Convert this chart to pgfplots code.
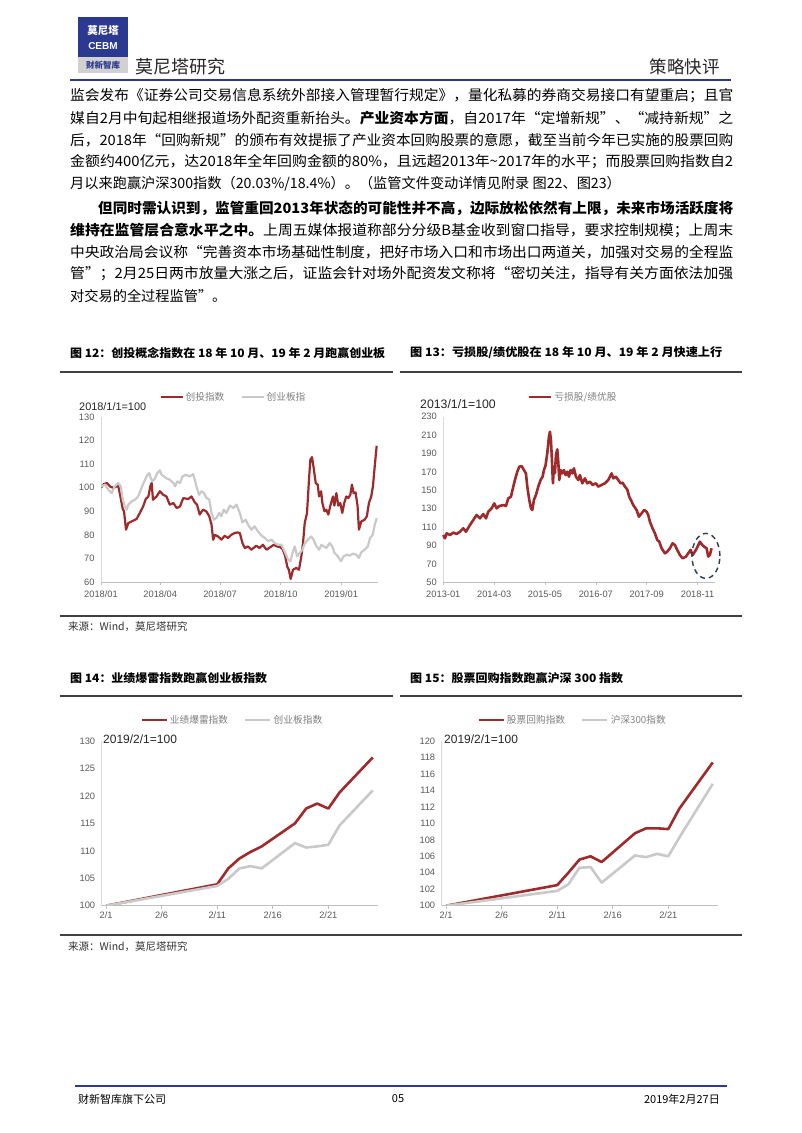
\documentclass[border=0pt]{standalone}
\usepackage{fontspec}
\setmainfont{Noto Sans CJK SC}
\newfontfamily\arial{Liberation Sans}
\usepackage{graphicx}
\usepackage{pgfplots}
\pgfplotsset{compat=1.18}
\definecolor{dred}{HTML}{9E2A2B}
\definecolor{lgray}{HTML}{C9C9C9}
\definecolor{navy}{HTML}{2B3990}
\definecolor{ticktext}{HTML}{595959}
\definecolor{legtext}{HTML}{7F7F7F}
\definecolor{xaxgray}{HTML}{BFBFBF}
\definecolor{yaxgray}{HTML}{D9D9D9}
\definecolor{rulegray}{HTML}{404040}
\definecolor{ellcol}{HTML}{2E3D57}
\newcommand\fline[1]{\resizebox{663pt}{\height}{#1}}
\pgfplotsset{
  mychart/.style={
    scale only axis, anchor=south west,
    axis x line*=bottom, axis y line*=left,
    x axis line style={draw=xaxgray, line width=0.8pt},
    y axis line style={draw=yaxgray, line width=0.8pt},
    tick align=outside, major tick length=3pt,
    xtick style={draw=xaxgray, line width=0.6pt},
    ytick style={draw=none},
    ticklabel style={font=\arial\fontsize{9.3}{10}\selectfont, text=ticktext},
    /pgf/number format/assume math mode=true,
    legend style={draw=none, fill=none, inner sep=0pt, legend columns=2,
      font=\fontsize{9.7}{10}\selectfont, text=legtext,
      /tikz/every even column/.append style={column sep=14pt}},
    legend cell align=left,
    legend image code/.code={\draw[##1] (0pt,0pt) -- (22pt,0pt);},
    every axis plot/.append style={line join=round},
  },
  longleg/.style={legend image code/.code={\draw[##1] (0pt,0pt) -- (25pt,0pt);}},
}
\begin{document}
\begin{tikzpicture}
\path[use as bounding box, fill=white] (0pt,0pt) rectangle (802pt,-1133pt);
% ---------- header ----------
\fill[navy] (78pt,-17pt) rectangle (128pt,-57pt);
\node[text=white, font=\bfseries\fontsize{10.5}{11}\selectfont, inner sep=0] at (103pt,-31pt) {莫尼塔};
\node[text=white, font=\arial\bfseries\fontsize{10}{10}\selectfont, inner sep=0] at (103pt,-46pt) {CEBM};
\fill[black!18] (78pt,-57pt) rectangle (128pt,-73pt);
\node[text=navy, font=\bfseries\fontsize{8.5}{9}\selectfont, inner sep=0] at (103pt,-65pt) {财新智库};
\node[anchor=west, inner sep=0, font=\fontsize{18}{20}\selectfont, text=black!85] at (135pt,-67pt) {莫尼塔研究};
\node[anchor=east, inner sep=0, font=\fontsize{17.5}{20}\selectfont, text=black!85] at (720pt,-67pt) {策略快评};
\draw[navy, line width=2pt] (70pt,-80pt) -- (731pt,-80pt);
% ---------- body text ----------
\begin{scope}[every node/.style={anchor=west, inner sep=0, font=\fontsize{14.2}{16}\selectfont}]
\node at (70pt,-96pt) {\fline{监会发布《证券公司交易信息系统外部接入管理暂行规定》，量化私募的券商交易接口有望重启；且官}};
\node at (70pt,-118pt) {\fline{媒自2月中旬起相继报道场外配资重新抬头。\textbf{产业资本方面}，自2017年“定增新规”、“减持新规”之}};
\node at (70pt,-140pt) {\fline{后，2018年“回购新规”的颁布有效提振了产业资本回购股票的意愿，截至当前今年已实施的股票回购}};
\node at (70pt,-162pt) {\fline{金额约400亿元，达2018年全年回购金额的80\%，且远超2013年\textasciitilde 2017年的水平；而股票回购指数自2}};
\node at (70pt,-184pt) {月以来跑赢沪深300指数（20.03\%/18.4\%）。（监管文件变动详情见附录 图22、图23）};
\node at (98pt,-208pt) {\resizebox{635pt}{\height}{\textbf{但同时需认识到，监管重回2013年状态的可能性并不高，边际放松依然有上限，未来市场活跃度将}}};
\node at (70pt,-230pt) {\fline{\textbf{维持在监管层合意水平之中。}上周五媒体报道称部分分级B基金收到窗口指导，要求控制规模；上周末}};
\node at (70pt,-252pt) {\fline{中央政治局会议称“完善资本市场基础性制度，把好市场入口和市场出口两道关，加强对交易的全程监}};
\node at (70pt,-274pt) {\fline{管”；2月25日两市放量大涨之后，证监会针对场外配资发文称将“密切关注，指导有关方面依法加强}};
\node at (70pt,-296pt) {对交易的全过程监管”。};
\end{scope}
% ---------- chart frames ----------
\node[anchor=west, inner sep=0, font=\bfseries\fontsize{11.5}{12}\selectfont] at (70pt,-353pt) {\resizebox{315pt}{\height}{图 12：创投概念指数在 18 年 10 月、19 年 2 月跑赢创业板}};
\node[anchor=west, inner sep=0, font=\bfseries\fontsize{11.5}{12}\selectfont] at (410pt,-353pt) {\resizebox{312pt}{\height}{图 13：亏损股/绩优股在 18 年 10 月、19 年 2 月快速上行}};
\draw[rulegray, line width=1.2pt] (60pt,-372pt) -- (393pt,-372pt);
\draw[rulegray, line width=1.2pt] (400pt,-372pt) -- (742pt,-372pt);
\draw[rulegray, line width=1.6pt] (60pt,-616pt) -- (742pt,-616pt);
\node[anchor=west, inner sep=0, font=\fontsize{10.5}{11}\selectfont, text=black!80] at (68pt,-627pt) {来源：Wind，莫尼塔研究};
\node[anchor=west, inner sep=0, font=\bfseries\fontsize{11.5}{12}\selectfont] at (70pt,-678pt) {\resizebox{197pt}{\height}{图 14：业绩爆雷指数跑赢创业板指数}};
\node[anchor=west, inner sep=0, font=\bfseries\fontsize{11.5}{12}\selectfont] at (410pt,-678pt) {\resizebox{213pt}{\height}{图 15：股票回购指数跑赢沪深 300 指数}};
\draw[rulegray, line width=1.2pt] (60pt,-696pt) -- (393pt,-696pt);
\draw[rulegray, line width=1.2pt] (400pt,-696pt) -- (742pt,-696pt);
\draw[rulegray, line width=1.6pt] (60pt,-935pt) -- (742pt,-935pt);
\node[anchor=west, inner sep=0, font=\fontsize{10.5}{11}\selectfont, text=black!80] at (68pt,-947pt) {来源：Wind，莫尼塔研究};
% base labels
\node[anchor=west, inner sep=0, font=\arial\fontsize{10.9}{11}\selectfont, text=black!85] at (79pt,-407pt) {2018/1/1=100};
\node[anchor=west, inner sep=0, font=\arial\fontsize{12.3}{13}\selectfont, text=black!85] at (420pt,-404pt) {2013/1/1=100};
\node[anchor=west, inner sep=0, font=\arial\fontsize{12}{13}\selectfont, text=black!85] at (103pt,-739pt) {2019/2/1=100};
\node[anchor=west, inner sep=0, font=\arial\fontsize{12}{13}\selectfont, text=black!85] at (444pt,-739pt) {2019/2/1=100};
% ---------- chart 12 ----------
\begin{axis}[mychart, at={(101pt,-582pt)}, width=277pt, height=165pt,
  xmin=0, xmax=421, ymin=60, ymax=130,
  xtick={0,90,181,273,365}, xticklabels={2018/01,2018/04,2018/07,2018/10,2019/01},
  xticklabel style={yshift=-2pt},
  ytick={60,70,80,90,100,110,120,130},
  legend style={at={(0.478,1.121)}, anchor=center}]
\addplot[dred, line width=2.2pt] table {
0 100
4 101.5
9 102
14 100.5
19 99.9
24 100.6
26 101
30 95.6
33 91
35 90
38 82.2
41.5 85
46.5 85.7
54 86.7
59 89.3
64 92
68 95.2
72 96.3
73 97.7
75 100.6
77 102
79 94.9
84.5 96.3
89.5 98.5
94.5 97
99.5 96.3
104.5 92.8
110 93.5
115 91.4
120 92
125 95.6
132.5 95.2
137.5 96.3
142.5 93.8
146 92.8
150 88.6
155 90.7
160 90
164.5 87.9
168 84.3
170.5 77.9
173 80
178 79.3
183 78
188 79.6
193 78.7
198 80
203 80.8
208 81
211 80.8
215 76.5
218.5 74.4
223.5 75.1
228.5 73.7
236 75.4
241 74.4
246 75.8
251.5 73.7
257.5 74.8
262.5 75.8
267.5 75.1
272.5 74.8
276.5 73.7
280 70.9
283 66.6
285.5 65.2
288.3 61.3
291.8 65.2
296.9 66
300.9 65.2
304.5 70.9
307 76.5
309.6 85
313.1 89.3
316.1 103.4
318.2 111.9
320.7 113
323.6 107.7
326.3 102
329.4 101.3
331.4 96.3
334.5 98.5
336.5 93.5
339.6 90
342.4 90.7
345.5 88.6
348.6 92.4
352.6 96.3
354.7 92.4
357.7 97.7
360.7 92.4
363.7 93.5
366.7 89.3
369.7 93.5
372.8 96.3
375.8 95.6
378.9 97
381.4 101.3
383.9 97.7
386.9 98
389.9 92.4
392 82.2
395.6 85.7
400.6 86.4
404.1 87.9
407.2 93.5
410.7 96.3
413.3 100.6
416 109
419 117.8
};
\addlegendentry{创投指数}
\addplot[lgray, line width=2.2pt] table {
0 100.5
6 101.3
11 99.2
16 97.7
21 100.6
26 102
30 100.6
33 95
36.5 92
39 90.7
41.5 92.8
46.5 94.2
51.5 94.9
56.5 96.3
61.5 99.9
67 103.4
70.5 105.5
73.5 106.2
75.5 104.1
78.5 102.7
82 104
85.5 106.2
89.5 107.4
92 105.5
95.5 104.8
99.5 104
104.5 103.4
110 102
112.5 100.6
116 102.7
120 102
124 104.8
129 105.5
135 104.8
140 105.8
142.5 103.4
145 100.6
149 97
153 98.5
156.5 97.7
160.5 95.6
164.5 95
168 89.3
171.5 86.4
175.5 87.2
179.5 89.3
183 87.9
186.5 90.7
190.5 89.3
196 92.4
201 91.4
206 92.8
211 89.3
215 85.3
220 86.4
223.5 84.3
228.5 82.2
233.5 83.6
238.5 81.5
244 79.7
249 78.7
254 77.3
259 78
264 76.5
269 75.8
274 75.8
279 73
284.5 69.5
288 68.8
291 72.3
294.5 75.1
298 70.9
302 72.3
306 73.7
309.5 76.2
314.5 78
319.5 79.3
323 78
327.5 75.1
331.5 73.7
335 75.8
338.5 75.1
342.5 74.4
347.5 76.5
351.5 75.1
355 72.3
360 70.9
365 68.8
368.5 70.9
374 71.6
378 71.2
383 72
388 71.6
392 70.2
395.5 72.6
400.5 73.7
405.5 75.1
409 78.7
413 80
416 84.3
419 87.1
};
\addlegendentry{创业板指}
\end{axis}
% ---------- chart 13 ----------
\begin{axis}[mychart, clip=false, at={(443.3pt,-582.3pt)}, width=271.7pt, height=165.6pt,
  xmin=0, xmax=74.8, ymin=50, ymax=230,
  xtick={0,14,28,42,56,70}, xticklabels={2013-01,2014-03,2015-05,2016-07,2017-09,2018-11},
  xticklabel style={yshift=-2pt},
  ytick={50,70,90,110,130,150,170,190,210,230},
  legend style={at={(0.478,1.119)}, anchor=center}]
\addplot[dred, line width=2.6pt] table {
0 101.4
0.46 97.8
0.92 103.2
1.83 101.4
2.75 104
3.67 102.5
4.59 105
5.5 108.7
6.24 105
7.34 112.3
8.26 117.7
9.17 123.2
10.09 119.5
11.01 124.2
11.74 119.5
12.39 126.8
13.3 130.4
14.04 135.8
14.68 130.4
15.41 132.9
16.51 134
17.25 132.9
17.89 141.3
18.62 143
19.27 154
19.72 161.2
20.37 170.2
20.92 175.7
21.56 176.4
22.2 172
22.75 168.4
23.12 154
23.67 139.5
24.13 130.4
24.5 128.6
24.95 139.5
25.5 144.9
26.15 154
26.79 161.2
27.34 164.8
27.71 172
28.17 177.5
28.62 190.2
29.08 208.3
29.36 213.7
29.63 204.6
29.91 182.9
30.18 157.6
30.46 175.7
30.73 168.4
31.01 188.4
31.38 194.5
31.65 181.1
31.93 161.2
32.29 172
32.75 168.4
33.21 172
33.67 166.6
34.13 170.2
34.59 164.8
35.05 172
35.5 168.4
35.96 173.9
36.51 164.8
37.16 161.2
37.61 166.6
38.26 157.6
38.99 163
39.63 157.6
40.37 159.4
41.1 155.8
42.02 157.6
42.66 154
43.58 155.8
44.5 157.6
45.41 161.2
46.33 168.4
46.79 163
47.52 164.8
48.17 161.2
48.81 157.6
49.36 158.3
50 154
50.64 151
51.19 143
51.65 139.5
52.29 134
53.21 128.6
53.85 121.3
54.59 125
55.32 128.6
55.96 126.8
56.42 123.2
56.88 115.9
57.61 108.7
58.26 103.2
58.9 96
59.45 94.2
60.09 87
61.01 81.5
61.65 83.3
62.39 87
63.12 92.4
63.76 90.6
64.4 85.2
65.14 79.7
65.87 76.1
66.79 77.9
67.43 81.5
68.07 85.2
68.62 79.7
69.27 83.3
70 88.7
70.64 94.2
71.28 90.6
71.83 88.7
72.48 87
72.94 77.9
73.39 79.7
73.85 87
};
\addlegendentry{亏损股/绩优股}
\draw[ellcol, line width=1.4pt, dash pattern=on 5pt off 4pt] (axis cs:72.3,78.7) ellipse [x radius=14pt, y radius=22.5pt];
\end{axis}
% ---------- chart 14 ----------
\begin{axis}[mychart, longleg, at={(101.7pt,-905.7pt)}, width=276.6pt, height=164.7pt,
  xmin=0.6, xmax=25.5, ymin=100, ymax=130,
  xtick={1,6,11,16,21}, xticklabels={2/1,2/6,2/11,2/16,2/21},
  ytick={100,105,110,115,120,125,130},
  legend style={at={(0.472,1.127)}, anchor=center}]
\addplot[dred, line width=2.6pt] table {
1 100
11 103.9
12 106.8
13 108.6
14 109.8
15 110.8
18 115
19 117.7
20 118.6
21 117.7
22 120.6
25 127
};
\addlegendentry{业绩爆雷指数}
\addplot[lgray, line width=2.6pt] table {
1 100
11 103.6
12 104.9
13 106.8
14 107.2
15 106.8
18 111.4
19 110.6
20 110.8
21 111.1
22 114.6
25 121
};
\addlegendentry{创业板指数}
\end{axis}
% ---------- chart 15 ----------
\begin{axis}[mychart, longleg, at={(441.7pt,-905.7pt)}, width=276.6pt, height=164.7pt,
  xmin=0.6, xmax=25.5, ymin=100, ymax=120,
  xtick={1,6,11,16,21}, xticklabels={2/1,2/6,2/11,2/16,2/21},
  ytick={100,102,104,106,108,110,112,114,116,118,120},
  legend style={at={(0.473,1.127)}, anchor=center}]
\addplot[dred, line width=2.6pt] table {
1 100
11 102.5
12 104
13 105.6
14 106
15 105.3
18 108.8
19 109.4
20 109.4
21 109.3
22 111.8
25 117.4
};
\addlegendentry{股票回购指数}
\addplot[lgray, line width=2.6pt] table {
1 100
11 101.8
12 102.6
13 104.6
14 104.7
15 102.8
18 106.1
19 105.9
20 106.3
21 106
22 108.3
25 114.8
};
\addlegendentry{沪深300指数}
\end{axis}
% ---------- footer ----------
\draw[navy, line width=1.8pt] (75pt,-1086pt) -- (727pt,-1086pt);
\node[anchor=west, inner sep=0, font=\fontsize{11}{12}\selectfont] at (78pt,-1099pt) {财新智库旗下公司};
\node[inner sep=0, font=\fontsize{11}{12}\selectfont] at (398pt,-1099pt) {05};
\node[anchor=east, inner sep=0, font=\fontsize{11}{12}\selectfont] at (720pt,-1099pt) {2019年2月27日};
\end{tikzpicture}
\end{document}
